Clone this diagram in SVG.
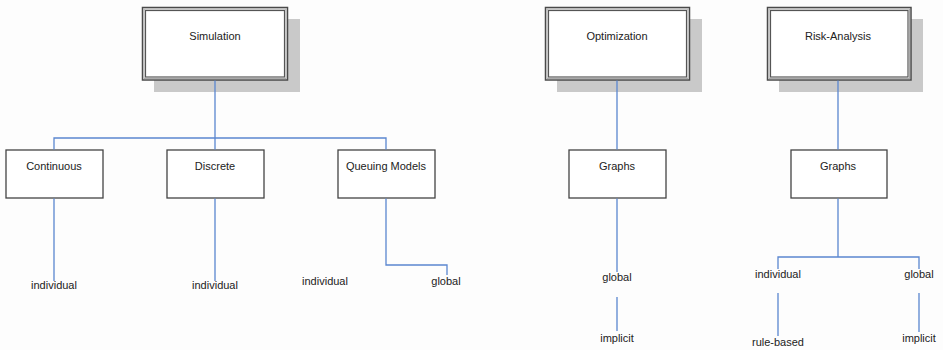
<svg xmlns="http://www.w3.org/2000/svg" width="943" height="350" viewBox="0 0 943 350">
<style>
text{font-family:"Liberation Sans",Arial,sans-serif;font-size:11px;fill:#222;text-anchor:middle}
.sh{fill:#c9c9c9}
.outer{fill:#fff;stroke:#4a4a4a;stroke-width:1.5}
.inner{fill:none;stroke:#555;stroke-width:1.2}
.mid{fill:none;stroke:#aaa;stroke-width:1}
.box{fill:#fff;stroke:#444;stroke-width:1.3}
.c{fill:none;stroke:#5b87d0;stroke-width:1.3}
</style>
<rect width="943" height="350" fill="#fdfdfd"/>
<g id="simulation">
<rect class="sh" x="154" y="19" width="146" height="73"/>
<rect class="outer" x="142.5" y="7.5" width="145" height="72.5"/>
<rect class="mid" x="144" y="9" width="142" height="69.5"/>
<rect class="inner" x="145.5" y="10.5" width="139" height="66.5"/>
<text x="215" y="40">Simulation</text>
</g>
<g id="optimization">
<rect class="sh" x="557" y="19" width="145" height="73"/>
<rect class="outer" x="545.5" y="7.5" width="144" height="72.5"/>
<rect class="mid" x="547" y="9" width="141" height="69.5"/>
<rect class="inner" x="548.5" y="10.5" width="138" height="66.5"/>
<text x="617" y="40">Optimization</text>
</g>
<g id="risk-analysis">
<rect class="sh" x="779" y="19" width="144" height="73"/>
<rect class="outer" x="767.5" y="7.5" width="143.5" height="72.5"/>
<rect class="mid" x="769" y="9" width="140.5" height="69.5"/>
<rect class="inner" x="770.5" y="10.5" width="137.5" height="66.5"/>
<text x="838" y="40">Risk-Analysis</text>
</g>
<g id="continuous">
<rect class="box" x="6" y="150" width="97" height="48"/>
<text x="54" y="170">Continuous</text>
</g>
<g id="discrete">
<rect class="box" x="167" y="150" width="97" height="48"/>
<text x="215" y="170">Discrete</text>
</g>
<g id="queuing">
<rect class="box" x="338" y="150" width="97" height="48"/>
<text x="386" y="170">Queuing Models</text>
</g>
<g id="graphs-opt">
<rect class="box" x="569" y="150" width="97" height="48"/>
<text x="617" y="170">Graphs</text>
</g>
<g id="graphs-risk">
<rect class="box" x="791" y="150" width="96" height="48"/>
<text x="838" y="170">Graphs</text>
</g>
<g id="leaf-cont-individual"><text x="54" y="289">individual</text></g>
<g id="leaf-disc-individual"><text x="215" y="289">individual</text></g>
<g id="leaf-queu-individual"><text x="325" y="285">individual</text></g>
<g id="leaf-queu-global"><text x="446" y="285">global</text></g>
<g id="leaf-opt-global"><text x="617" y="281">global</text></g>
<g id="leaf-opt-implicit"><text x="617" y="342">implicit</text></g>
<g id="leaf-risk-individual"><text x="778" y="278">individual</text></g>
<g id="leaf-risk-global"><text x="919" y="278">global</text></g>
<g id="leaf-risk-rule"><text x="778" y="346">rule-based</text></g>
<g id="leaf-risk-implicit"><text x="919" y="342">implicit</text></g>
<g id="connectors">
<path class="c" d="M215 80.5V138M54 149.5V138H386V149.5M215 138V149.5"/>
<path class="c" d="M54 198.5V281M215 198.5V281M386 198.5V265H447V275"/>
<path class="c" d="M617 80.5V149.5M838 80.5V149.5"/>
<path class="c" d="M617 198.5V272M617 297V331"/>
<path class="c" d="M838 198.5V257M778 269V257H919V269M778 293V336M919 293V332"/>
</g>
</svg>
